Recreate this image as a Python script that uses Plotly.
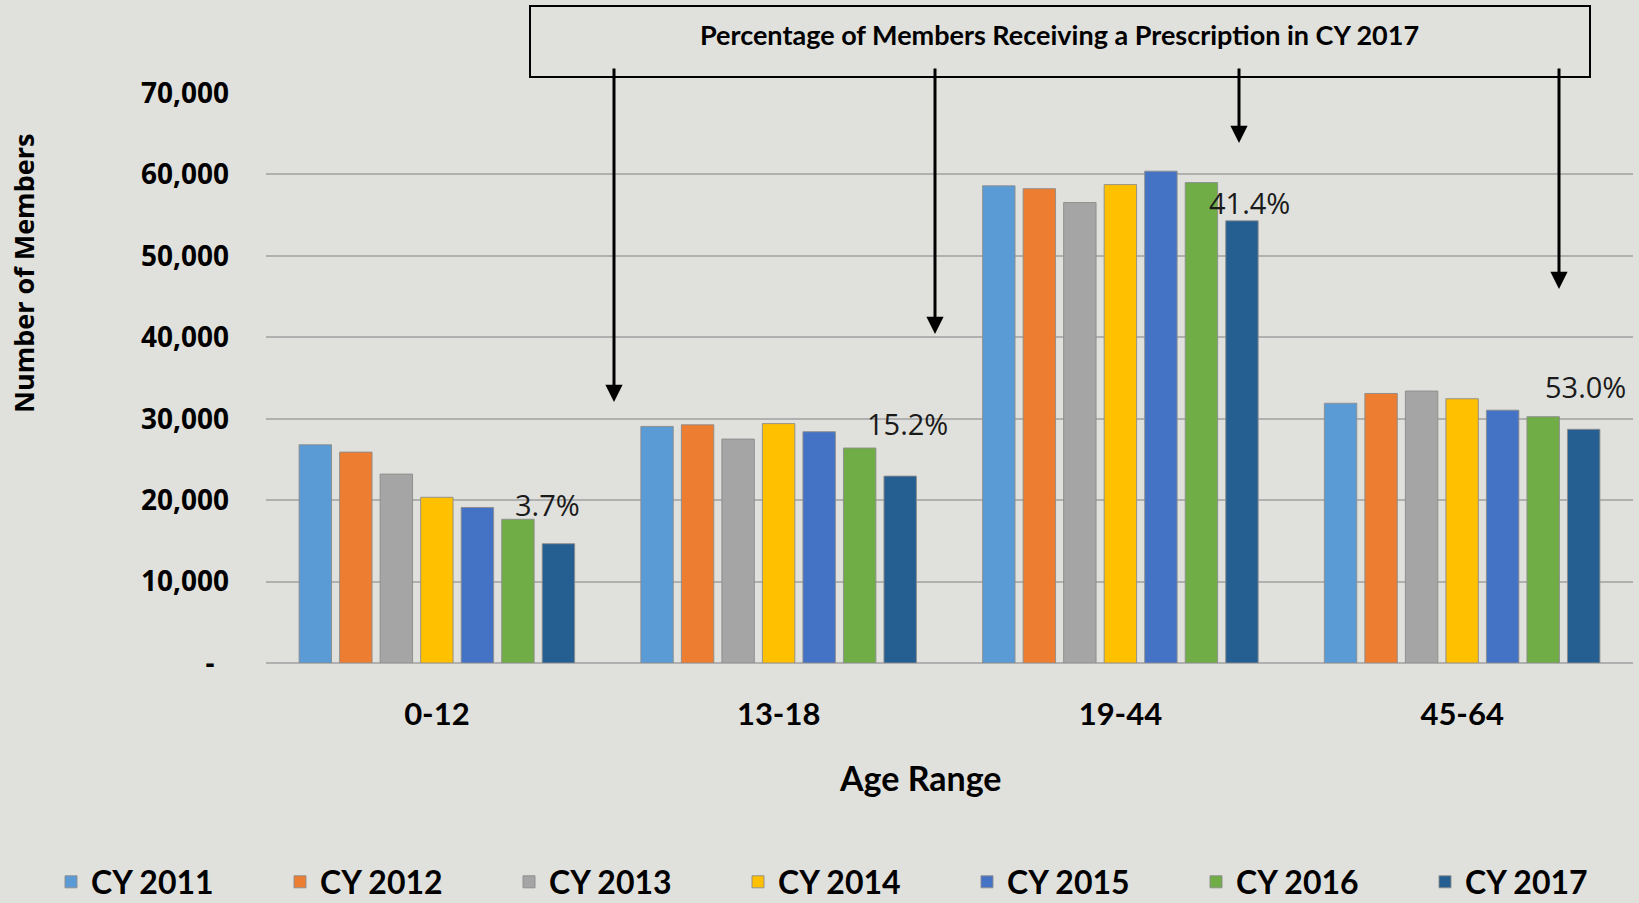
import plotly.graph_objects as go

# ---------------- data ----------------
age_ranges = ["0-12", "13-18", "19-44", "45-64"]
years = ["CY 2011", "CY 2012", "CY 2013", "CY 2014", "CY 2015", "CY 2016", "CY 2017"]
cy2011 = [26800, 29050, 58600, 31900]
cy2012 = [25900, 29250, 58250, 33100]
cy2013 = [23200, 27500, 56550, 33400]
cy2014 = [20350, 29400, 58750, 32450]
cy2015 = [19100, 28400, 60400, 31050]
cy2016 = [17650, 26400, 59000, 30250]
cy2017 = [14650, 22950, 54300, 28700]
pct_2017 = ["3.7%", "15.2%", "41.4%", "53.0%"]
y_tickvals = [0, 10000, 20000, 30000, 40000, 50000, 60000, 70000]
y_ticktext = ["-\u00a0\u00a0", "10,000", "20,000", "30,000", "40,000", "50,000", "60,000", "70,000"]
box_title = "Percentage of Members Receiving a Prescription in CY 2017"

series = [cy2011, cy2012, cy2013, cy2014, cy2015, cy2016, cy2017]
colors = ["#5B9BD5", "#ED7D31", "#A5A5A5", "#FFC000", "#4472C4", "#70AD47", "#255E91"]

# ---------------- layout geometry ----------------
W, H = 1639, 903
ML, MR, MT, MB = 266, 6, 93, 240
PW, PH = W - ML - MR, H - MT - MB


def px(x):
    return (x - ML) / PW


def py(y):
    return (H - MB - y) / PH


BG = "#E0E1DC"
fig = go.Figure()
for name, vals, col in zip(years, series, colors):
    fig.add_trace(go.Bar(
        name=name, x=age_ranges, y=vals,
        marker=dict(color=col, line=dict(color="rgba(140,140,140,0.9)", width=1)),
    ))

annotations = []
# percentage labels near the CY 2017 bars
pct_pos = [(547, 504), (907, 423), (1249, 202), (1585, 386)]
for txt, (x, y) in zip(pct_2017, pct_pos):
    annotations.append(dict(x=px(x), y=py(y), xref="paper", yref="paper", text=txt,
                            showarrow=False, xanchor="center", yanchor="middle",
                            font=dict(family="Open Sans", size=29, color="#1a1a1a")))

# arrows from the box
arrow_tips = [(614, 402), (935, 334), (1239, 143), (1559, 289)]
for x, y in arrow_tips:
    annotations.append(dict(x=px(x), y=py(y), xref="paper", yref="paper", text="",
                            showarrow=True, arrowhead=2, arrowsize=1.15, arrowwidth=3,
                            arrowcolor="black", ax=0, ay=67 - y, axref="pixel", ayref="pixel",
                            standoff=0, startstandoff=0))

# box title text
annotations.append(dict(x=px(1059), y=py(35), xref="paper", yref="paper", text="<b>" + box_title + "</b>",
                        showarrow=False, xanchor="center", yanchor="middle",
                        font=dict(family="Lato", size=27, color="black")))
# axis titles
annotations.append(dict(x=px(920), y=py(777), xref="paper", yref="paper", text="<b>Age Range</b>",
                        showarrow=False, xanchor="center", yanchor="middle",
                        font=dict(family="Lato", size=34, color="black")))
annotations.append(dict(x=px(23), y=py(274), xref="paper", yref="paper", text="<b>Number of Members</b>",
                        showarrow=False, textangle=-90, xanchor="center", yanchor="middle",
                        font=dict(family="Open Sans", size=27, color="black")))

shapes = [dict(type="rect", xref="paper", yref="paper", x0=px(530), x1=px(1590), y0=py(77), y1=py(6),
               line=dict(color="black", width=2), fillcolor="rgba(0,0,0,0)", layer="above")]

fig.update_layout(
    width=W, height=H,
    margin=dict(l=ML, r=MR, t=MT, b=MB, autoexpand=False),
    paper_bgcolor=BG, plot_bgcolor=BG,
    barmode="group", bargap=0.17, bargroupgap=0.2,
    showlegend=True,
    legend=dict(orientation="h", x=px(51), y=py(882), xanchor="left", yanchor="middle",
                entrywidth=184, entrywidthmode="pixels", bgcolor="rgba(0,0,0,0)",
                font=dict(family="Lato", size=32, color="black", weight="bold"), traceorder="normal"),
    annotations=annotations, shapes=shapes,
    xaxis=dict(showgrid=False, showline=False, ticks="", ticklabelstandoff=30,
               tickfont=dict(family="Lato", size=31, color="black", weight="bold")),
    yaxis=dict(range=[0, 70000], tickvals=y_tickvals, ticktext=y_ticktext,
               showgrid=True, gridcolor="#B0B0B0", gridwidth=2, zeroline=True,
               zerolinecolor="#B0B0B0", zerolinewidth=2, showline=False, ticks="",
               ticklabelstandoff=36,
               tickfont=dict(family="Open Sans", size=28, color="black", weight="bold")),
)

fig.write_html("out.html", config={"displayModeBar": False},
               post_script="document.body.style.margin='0';")
